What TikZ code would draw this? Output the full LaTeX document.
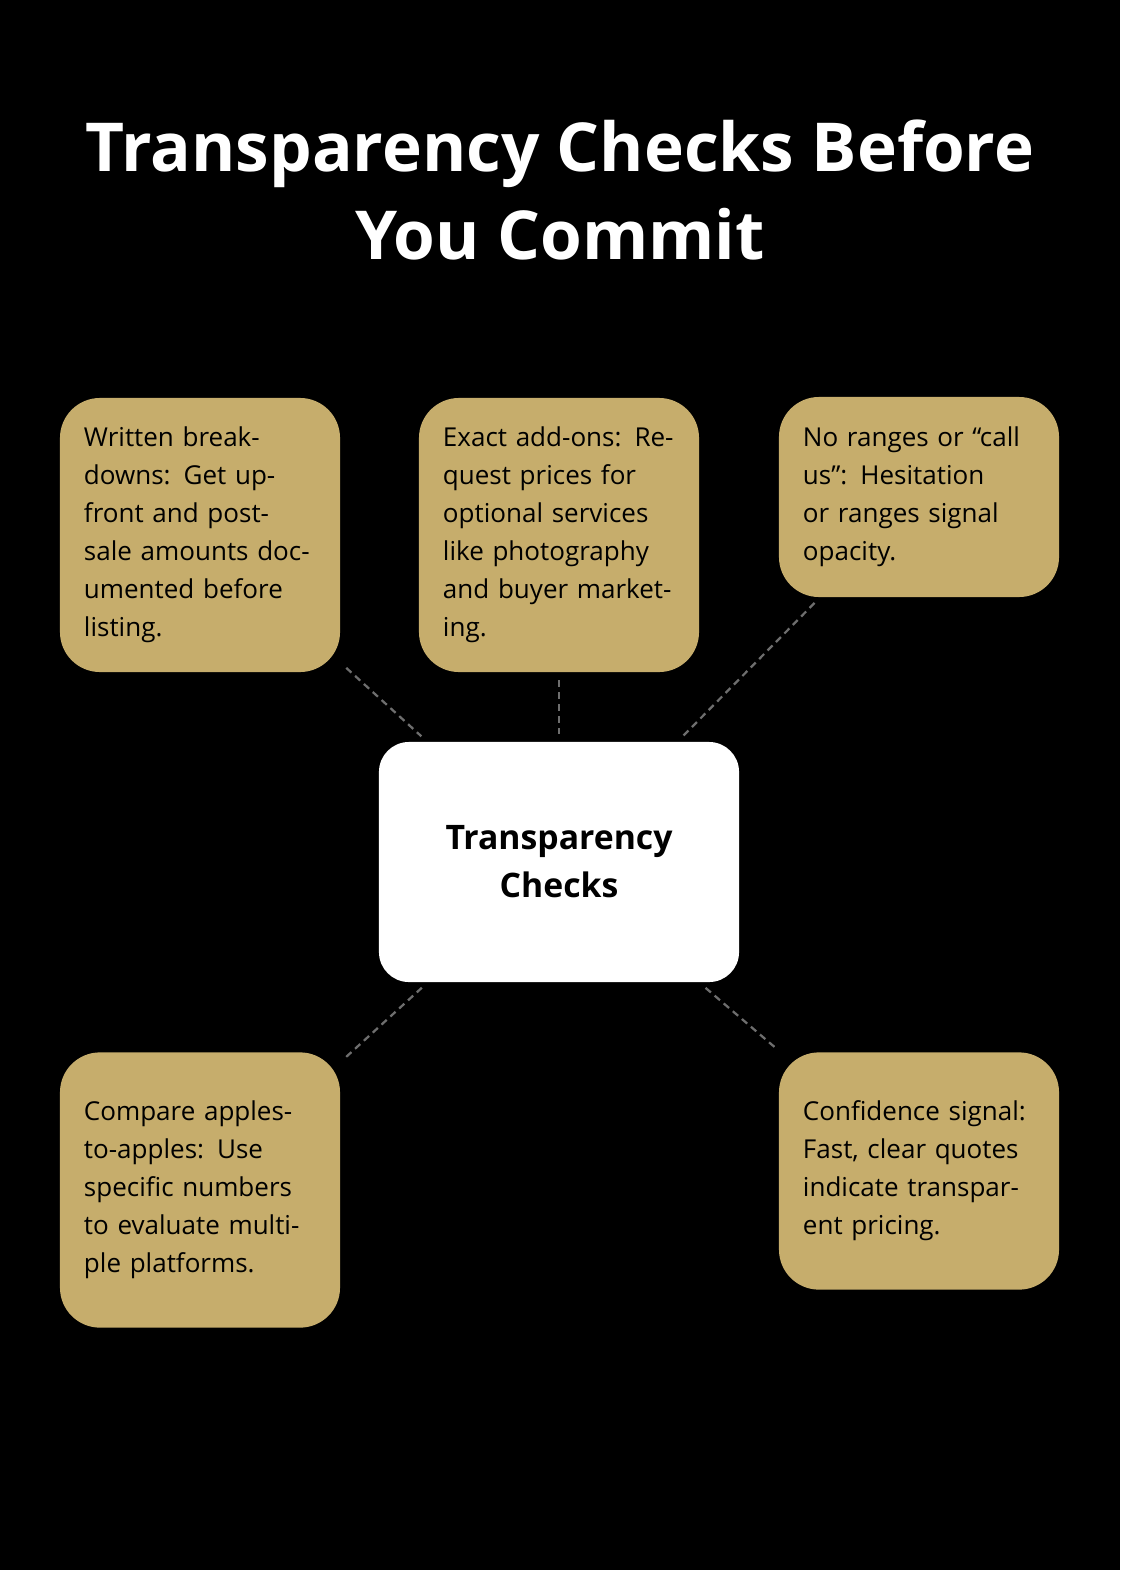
\documentclass[tikz,border=0pt]{standalone}
\usepackage{fontspec}
\setmainfont{Open Sans}
\usetikzlibrary{positioning}
\definecolor{gold}{HTML}{C6AD6C}
\definecolor{linkgray}{HTML}{6E6E6E}
\begin{document}
\begin{tikzpicture}
	[x=0.025cm,y=-0.025cm,
	 card/.style={rectangle,fill=gold,rounded corners=1cm,text width=5.8cm,inner xsep=0.6cm,
	  minimum width=7cm,align=left,font=\fontsize{18.5}{27}\selectfont},
	 hub/.style={rectangle,fill=white,rounded corners=0.75cm,minimum width=9cm,minimum height=6cm,
	  align=center,font=\fontsize{24}{34}\selectfont\bfseries},
	 link/.style={draw=linkgray,line width=1.6pt,dash pattern=on 5pt off 3.5pt,shorten <=0.2cm,shorten >=0.2cm}]
	\fill[black] (0,0) rectangle (1120,1570);
	\useasboundingbox (0,0) rectangle (1120,1570);
	\node[text=white,align=center,font=\fontsize{48}{62}\selectfont\bfseries] (title) at (560,190) {Transparency Checks Before\\You Commit};
	\node[hub] (c) at (559,862) {Transparency\\Checks};
	\node[card,minimum height=6.85cm] (lt) at (200,535) {Written breakdowns: Get upfront and post-sale amounts documented before listing.};
	\node[card,minimum height=6.85cm] (mt) at (559,535) {Exact add-ons: Request prices for optional services like photography and buyer marketing.};
	\node[card,minimum height=5cm] (rt) at (919,497) {No ranges or “call us”: Hesitation or ranges signal opacity.};
	\node[card,minimum height=6.88cm] (lb) at (200,1190) {Compare apples-to-apples: Use specific numbers to evaluate multiple platforms.};
	\node[card,minimum height=5.93cm] (rb) at (919,1171) {Confidence signal: Fast, clear quotes indicate transparent pricing.};
	
	\path[link] (lt) -- (c);
	\path[link] (mt) -- (c);
	\path[link] (rt) -- (c);
	\path[link] (lb) -- (c);
	\path[link] (rb) -- (c);
\end{tikzpicture}
\end{document}
